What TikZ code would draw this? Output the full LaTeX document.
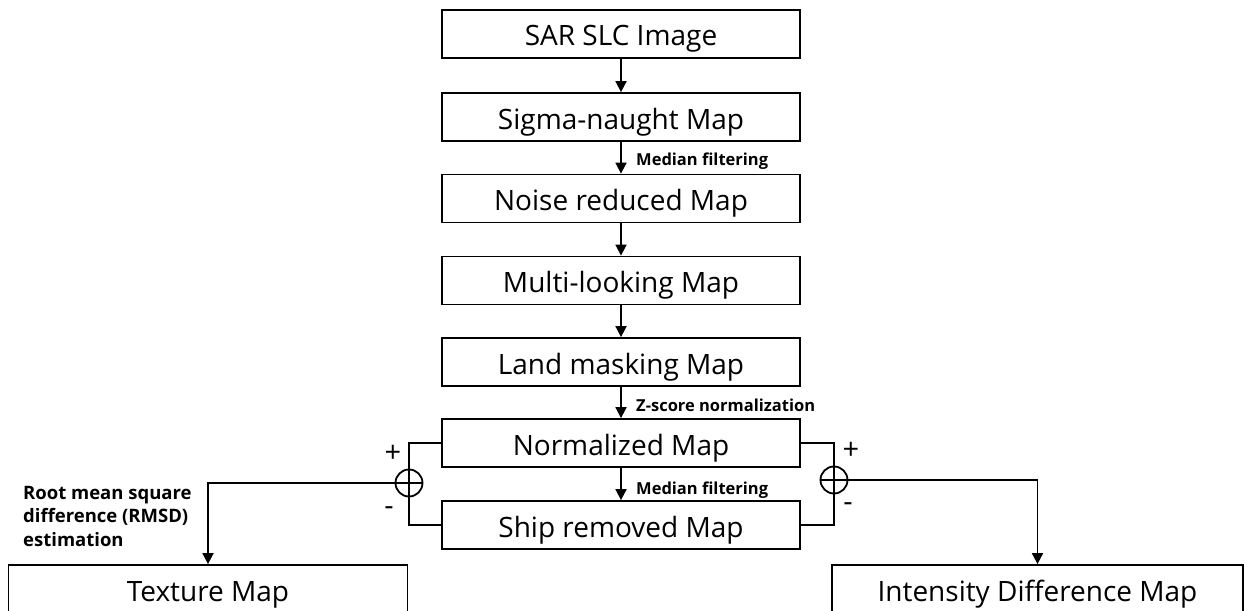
\documentclass[tikz,border=0pt]{standalone}
\usepackage{fontspec}
\setmainfont{Open Sans}
\usetikzlibrary{arrows.meta}

\tikzset{
  stage/.style={draw, line width=1.8pt, inner sep=0pt, minimum width=358pt,
    minimum height=48pt, text height=24pt, text depth=0pt,
    font=\fontsize{28}{30}\selectfont},
  wide/.style={stage, minimum width=399pt},
  step label/.style={anchor=base west, inner sep=0pt,
    font=\fontsize{16.5}{18}\selectfont\bfseries},
  sign/.style={inner sep=0pt, font=\fontsize{29}{30}\selectfont},
  sumnode/.style={circle, draw, line width=1.8pt, inner sep=0pt, minimum size=27pt,
    path picture={\draw[line width=1.8pt]
      (path picture bounding box.north) -- (path picture bounding box.south)
      (path picture bounding box.west) -- (path picture bounding box.east);}},
  link/.style={line width=1.8pt},
  flow/.style={link, -{Triangle[length=11pt,width=11pt]}}
}

\begin{document}
\begin{tikzpicture}[x=1pt, y=-1pt]
\useasboundingbox (0,0) rectangle (1244,610);

% main processing chain
\node[stage] (slc)   at (621,34)  {SAR SLC Image};
\node[stage] (sigma) at (621,117) {Sigma-naught Map};
\node[stage] (noise) at (621,198.5) {Noise reduced Map};
\node[stage] (multi) at (621,280.5) {Multi-looking Map};
\node[stage] (land)  at (621,362) {Land masking Map};
\node[stage] (norm)  at (621,443) {Normalized Map};
\node[stage] (ship)  at (621,525) {Ship removed Map};

% outputs
\node[wide] (texture) at (208,589) {Texture Map};
\node[stage, minimum width=411pt] (intensity) at (1037.5,589) {Intensity Difference Map};

% summing junctions
\node[sumnode] (sumL) at (409,483) {};
\node[sumnode] (sumR) at (834,480) {};

% step annotations
\node[step label] (lmed1) at (636,165) {Median filtering};
\node[step label] (lz)    at (636,411) {Z-score normalization};
\node[step label] (lmed2) at (636,494) {Median filtering};
\node[anchor=north west, inner sep=0pt, align=left,
      font=\fontsize{18.5}{23.5}\selectfont\bfseries] (lrmsd) at (23,486)
  {Root mean square\\difference (RMSD)\\estimation};

% signs at the junctions
\node[sign] (pL) at (393,454) {+};
\node[sign] (mL) at (389,511) {-};
\node[sign] (pR) at (851,451) {+};
\node[sign] (mR) at (848,507) {-};

% chain arrows
\draw[flow] (slc) -- (sigma);
\draw[flow] (sigma) -- (noise);
\draw[flow] (noise) -- (multi);
\draw[flow] (multi) -- (land);
\draw[flow] (land) -- (norm);
\draw[flow] (norm) -- (ship);

% difference branches
\draw[link] (norm.west) -| (sumL.north);
\draw[link] (ship.west) -| (sumL.south);
\draw[flow] (sumL.west) -| (texture.north);
\draw[link] (norm.east) -| (sumR.north);
\draw[link] (ship.east) -| (sumR.south);
\draw[flow] (sumR.east) -| (intensity.north);
\end{tikzpicture}
\end{document}
